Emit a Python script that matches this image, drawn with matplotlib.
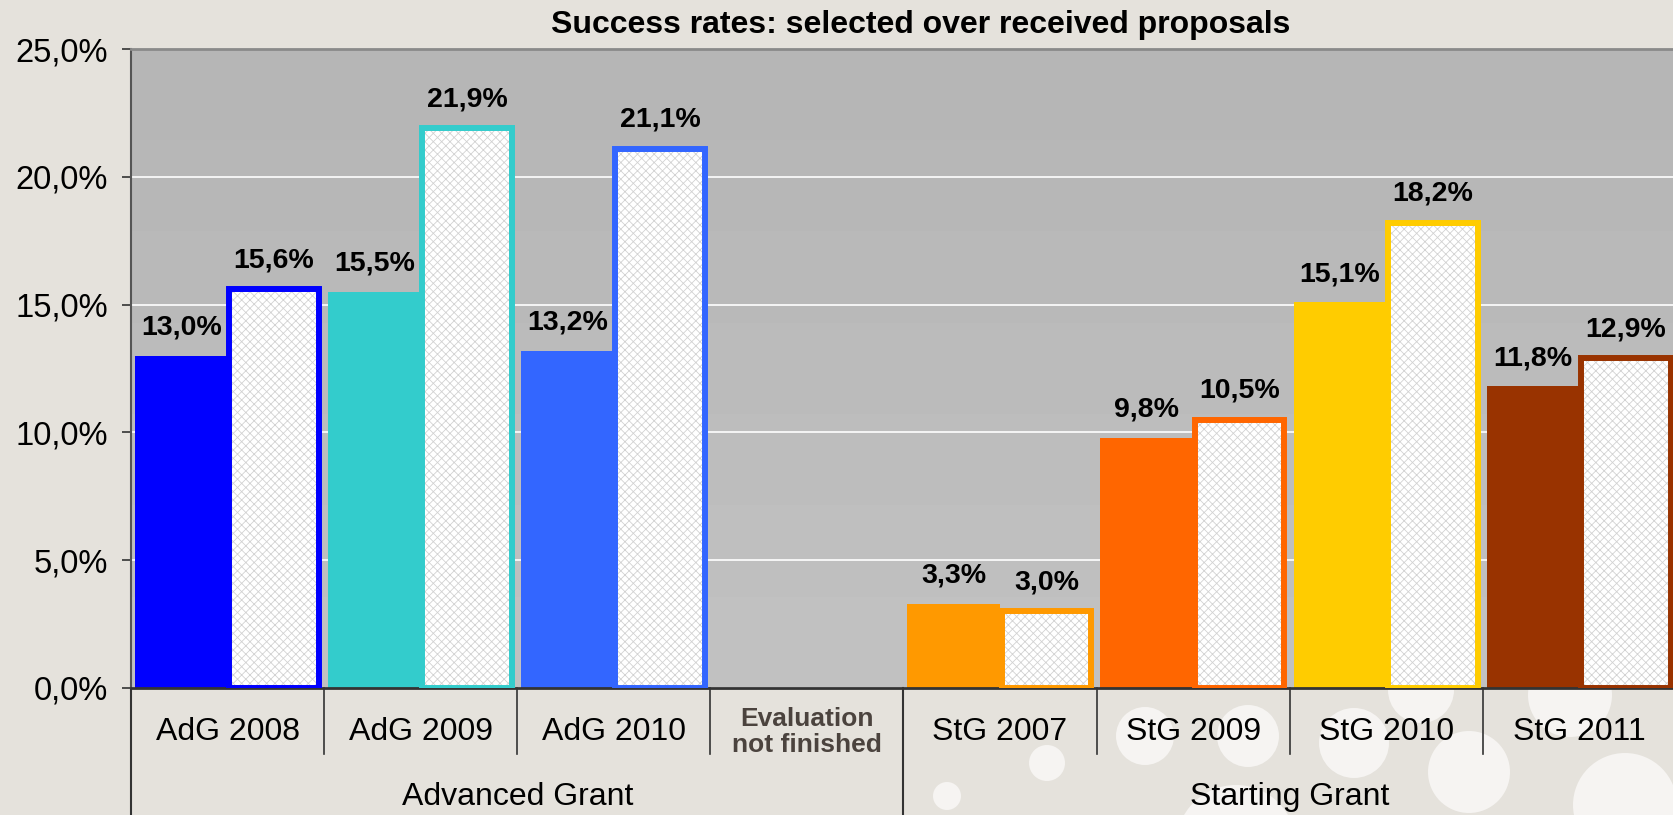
import matplotlib
matplotlib.use("Agg")
from matplotlib import pyplot as plt
from matplotlib import transforms as mtransforms
from matplotlib.patches import Ellipse
import numpy as np

categories = ['AdG 2008', 'AdG 2009', 'AdG 2010', 'Evaluation\nnot finished',
              'StG 2007', 'StG 2009', 'StG 2010', 'StG 2011']
rate_solid = [13.0, 15.5, 13.2, np.nan, 3.3, 9.8, 15.1, 11.8]
rate_hatched = [15.6, 21.9, 21.1, np.nan, 3.0, 10.5, 18.2, 12.9]
bar_colors = ['#0000ff', '#33cccc', '#3366ff', '#bbbbbb',
              '#ff9900', '#ff6600', '#ffcc00', '#993300']
groups = ['Advanced Grant', 'Starting Grant']
group_spans = [(-0.5, 3.5), (3.5, 7.5)]
y_ticks = [0, 5, 10, 15, 20, 25]

W, H = 1673, 815
BG = '#e5e2dc'
FONT = ['Liberation Sans', 'DejaVu Sans']
plt.rcParams['font.family'] = FONT
plt.rcParams['hatch.linewidth'] = 0.6

fig = plt.figure(figsize=(W / 100, H / 100), dpi=100, facecolor=BG)

# decorative circles in the background (pixel centres, radius)
circles = [(947, 796, 14), (1047, 763, 18), (1145, 736, 29), (1248, 736, 31),
           (1354, 743, 35), (1421, 690, 33), (1469, 772, 41), (1570, 695, 42),
           (1625, 805, 52), (1236, 845, 60)]
for cx, cy, r in circles:
    fig.patches.append(Ellipse((cx / W, 1 - cy / H), 2 * r / W, 2 * r / H,
                               transform=fig.transFigure, facecolor='#f6f4f2',
                               edgecolor='none', zorder=-10))

ax_left, ax_bottom, ax_h = 131, 688, 639
ax = fig.add_axes([ax_left / W, (H - ax_bottom) / H, (1676 - ax_left) / W, ax_h / H])
ax.set_zorder(1)
ax.patch.set_visible(False)

# banded grey gradient of the plot area
levels = np.linspace(182, 193, 7) / 255
grad = np.repeat(levels.reshape(-1, 1, 1), 3, axis=2)
ax.imshow(grad, extent=(-0.5, 7.5, 0, 25), aspect='auto',
          interpolation='nearest', zorder=0)
ax.set_xlim(-0.5, 7.5)
ax.set_ylim(0, 25)

ax.set_axisbelow(True)
ax.yaxis.grid(True, color='white', linewidth=1.2)

x = np.arange(len(categories))
off, bw = 0.24, 0.48
for i in x:
    if np.isnan(rate_solid[i]):
        continue
    c = bar_colors[i]
    ax.bar(x[i] - off, rate_solid[i], width=bw, color=c, edgecolor='none', zorder=2)
    ax.bar(x[i] + off, rate_hatched[i], width=0.465, facecolor='white',
           edgecolor='#d2d2d2', linewidth=0, hatch='xxxx', zorder=3)
    ax.bar(x[i] + off, rate_hatched[i], width=0.465, fill=False,
           edgecolor=c, linewidth=4.3, zorder=4)
    for xx, v, dy in [(x[i] - off, rate_solid[i], 15), (x[i] + off, rate_hatched[i], 16)]:
        ax.annotate(f"{v:.1f}%".replace('.', ','), (xx, v), xytext=(0, dy),
                    textcoords='offset points', ha='center', va='baseline',
                    fontsize=20.5, fontweight='bold', color='black', zorder=5,
                    annotation_clip=False)

ax.set_yticks(y_ticks)
ax.set_yticklabels([f"{t:.1f}%".replace('.', ',') for t in y_ticks])
ax.tick_params(axis='y', length=6.5, width=1.2, color='#333333', pad=10,
               labelsize=23.5, labelcolor='black')
ax.set_xticks([])

ax.spines['right'].set_visible(False)
ax.spines['left'].set_color('#555555')
ax.spines['left'].set_linewidth(1.5)
ax.spines['bottom'].set_color('#333333')
ax.spines['bottom'].set_linewidth(2)
ax.spines['top'].set_color('#8a8a8a')
ax.spines['top'].set_linewidth(2)

# category labels and separators under the axis
trans = mtransforms.blended_transform_factory(ax.transData, ax.transAxes)
for i, lab in enumerate(categories):
    if '\n' in lab:
        ax.text(i, -44 / ax_h, lab, transform=trans, ha='center', va='center',
                fontsize=19, fontweight='bold', color='#4b433e', linespacing=1.1)
    else:
        ax.text(i, -44 / ax_h, lab, transform=trans, ha='center', va='center',
                fontsize=23, color='black')
for b in [0.5, 1.5, 2.5, 4.5, 5.5, 6.5]:
    ax.plot([b, b], [0, -66 / ax_h], transform=trans, color='#333333',
            linewidth=1.2, clip_on=False)
for b in [-0.5, 3.5]:
    ax.plot([b, b], [0, -140 / ax_h], transform=trans, color='#333333',
            linewidth=1.5, clip_on=False)
for g, (a, b) in zip(groups, group_spans):
    ax.text((a + b) / 2, -109 / ax_h, g, transform=trans, ha='center', va='center',
            fontsize=23, color='black')

fig.text(921 / W, 1 - 25 / H, 'Success rates: selected over received proposals',
         ha='center', va='center', fontsize=23, fontweight='bold', color='black')

fig.savefig('out.png', dpi=100, facecolor=BG)
